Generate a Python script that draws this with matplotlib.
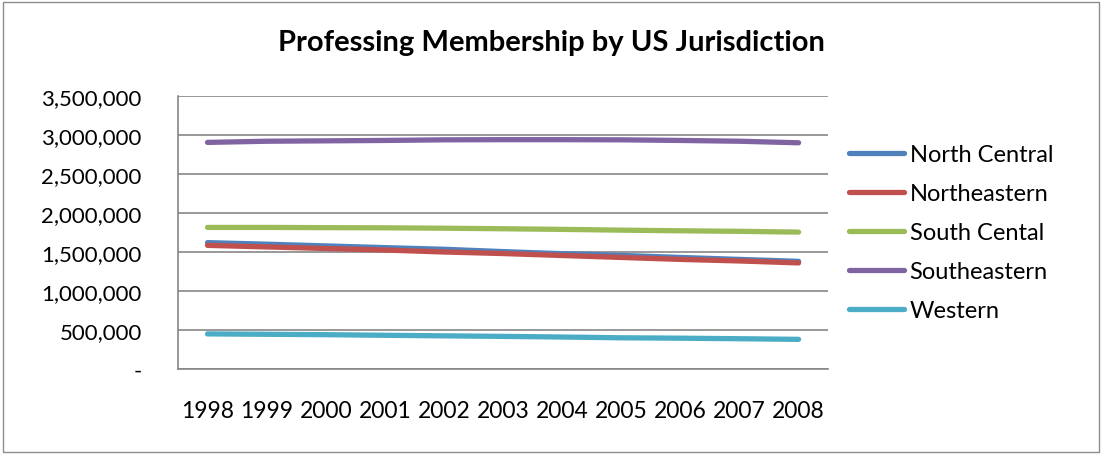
import matplotlib.pyplot as plt
from matplotlib.patches import Rectangle
from matplotlib.ticker import FuncFormatter

plt.rcParams['font.family'] = ['Lato', 'DejaVu Sans']

years = ['1998', '1999', '2000', '2001', '2002', '2003', '2004', '2005', '2006', '2007', '2008']

north_central = [1620000, 1600000, 1578000, 1556000, 1535000, 1505000, 1478000, 1456000, 1430000, 1405000, 1380000]
northeastern = [1585000, 1565000, 1545000, 1525000, 1500000, 1480000, 1455000, 1430000, 1405000, 1385000, 1360000]
south_central = [1815000, 1815000, 1812000, 1810000, 1805000, 1798000, 1790000, 1780000, 1772000, 1765000, 1755000]
southeastern = [2905000, 2920000, 2925000, 2930000, 2938000, 2940000, 2940000, 2938000, 2930000, 2920000, 2900000]
western = [450000, 445000, 440000, 432000, 425000, 418000, 410000, 400000, 395000, 388000, 380000]

series = [
    ('North Central', north_central, '#4F81BD'),
    ('Northeastern', northeastern, '#C0504D'),
    ('South Cental', south_central, '#9BBB59'),
    ('Southeastern', southeastern, '#8064A2'),
    ('Western', western, '#4BACC6'),
]

fig = plt.figure(figsize=(11.02, 4.56), dpi=100)
fig.patches.append(Rectangle((0.003, 0.006), 0.994, 0.988, transform=fig.transFigure,
                             fill=False, edgecolor='#8C8C8C', linewidth=1))

ax = fig.add_axes([0.1615, 0.1886, 0.59, 0.5987])

x = range(len(years))
for name, vals, col in series:
    ax.plot(x, vals, color=col, linewidth=3.8, solid_capstyle='round', label=name)

ax.set_xlim(-0.5, len(years) - 0.5)
ax.set_ylim(0, 3500000)
ax.set_yticks(range(0, 3500001, 500000))
ax.yaxis.set_major_formatter(FuncFormatter(lambda v, p: '-' if v == 0 else f'{int(v):,}'))
ax.set_xticks(list(x))
ax.set_xticklabels(years)

ax.grid(axis='y', color='#868686', linewidth=1.2)
ax.set_axisbelow(True)
for s in ['top', 'right']:
    ax.spines[s].set_visible(False)
for s in ['left', 'bottom']:
    ax.spines[s].set_color('#868686')
    ax.spines[s].set_linewidth(1.2)

ax.tick_params(axis='y', labelsize=16, length=0, pad=26)
ax.tick_params(axis='x', labelsize=16.5, length=0, pad=22)

fig.suptitle('Professing Membership by US Jurisdiction', x=0.5, y=0.935,
             fontsize=21, fontweight='bold')

leg = ax.legend(loc='center left', bbox_to_anchor=(1.0, 0.5), frameon=False,
                fontsize=17, handlelength=2.3, handletextpad=0.25, labelspacing=0.76)

fig.savefig('out.png', dpi=100)
